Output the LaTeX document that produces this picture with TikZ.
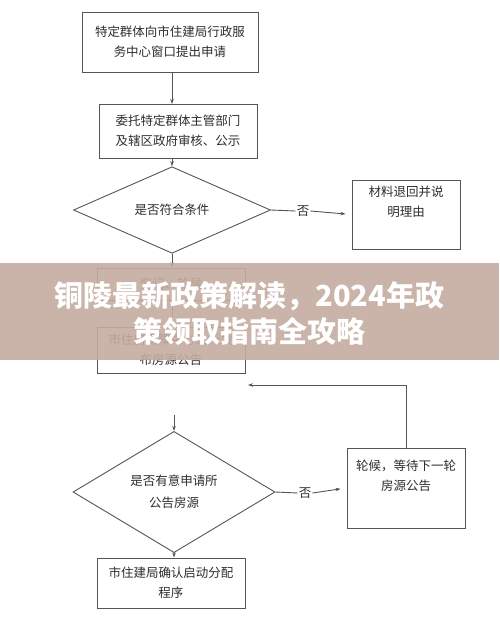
\documentclass[tikz,border=0pt]{standalone}
\usepackage{fontspec}
\setmainfont{Noto Sans CJK SC}
\usetikzlibrary{shapes.geometric, arrows.meta, positioning}
\definecolor{linegray}{RGB}{85,85,85}
\definecolor{textgray}{RGB}{45,45,45}
\definecolor{bannertan}{RGB}{196,172,160}
\tikzset{
  procbox/.style={draw=linegray, line width=0.9pt, inner sep=0pt, align=center,
    font=\fontsize{12.5}{20}\selectfont, text=textgray},
  decision/.style={diamond, draw=linegray, line width=0.9pt, inner sep=0pt, align=center,
    font=\fontsize{12.5}{22}\selectfont, text=textgray},
  nolabel/.style={inner sep=1pt, font=\fontsize{12.5}{15}\selectfont, text=textgray},
  flow/.style={draw=linegray, line width=0.9pt, -{Stealth[length=5pt,width=3.5pt]}},
  plain/.style={draw=linegray, line width=0.9pt},
  bannertext/.style={text=white, font=\fontsize{29}{34}\selectfont\bfseries},
}
\begin{document}
\begin{tikzpicture}[x=1pt, y=-1pt]
  \useasboundingbox (0,0) rectangle (499,625);

  % main column
  \node[procbox, minimum width=176pt, minimum height=60pt] (apply) at (170,42)
    {特定群体向市住建局行政服\\务中心窗口提出申请};
  \node[procbox, minimum width=158pt, minimum height=54pt] (review) at (178,131)
    {委托特定群体主管部门\\及辖区政府审核、公示};
  \node[decision, minimum width=197pt, minimum height=57pt] (check) at (172,210) {是否符合条件};
  \node[procbox, minimum width=148pt, minimum height=32pt] (queue) at (171,284) {登记、轮候};
  \node[procbox, minimum width=148pt, minimum height=46pt] (notice) at (171,350)
    {市住房保障中心统一发\\布房源公告};
  \coordinate (gapstart) at (174,415);
  \node[decision, minimum width=202pt, minimum height=87pt] (intent) at (174,492)
    {是否有意申请所\\公告房源};
  \node[procbox, minimum width=148pt, minimum height=50pt] (allot) at (171,583)
    {市住建局确认启动分配\\程序};

  % side boxes
  \node[procbox, minimum width=108pt, minimum height=69pt] (reject) at (406,214.5)
    {材料退回并说\\明理由\\\strut};
  \node[procbox, minimum width=118pt, minimum height=80pt] (wait) at (406,488)
    {轮候，等待下一轮\\房源公告\\\strut};
  \node[nolabel] (no1) at (303,211) {否};
  \node[nolabel] (no2) at (305,493) {否};
  \coordinate (loopend) at (248,385);

  % connectors
  \draw[flow] (172,72) -- (172,104);
  \draw[flow] (172,158) -- (check.north);
  \draw[flow] (check.south) -- (queue.north -| check.south);
  \draw[flow] (172,300) -- (notice.north -| check.south);
  \draw[flow] (gapstart) -- (intent.north);
  \draw[flow] (intent.south) -- (allot.north -| intent.south);
  \draw[plain] (check.east) -- (no1.west);
  \draw[flow, shorten >=6pt] (no1.east) -- (reject.west);
  \draw[plain] (intent.east) -- (no2.west);
  \draw[flow, shorten >=6pt] (no2.east) -- (wait.west);
  \draw[flow] (wait.north) |- (loopend);

  % title banner
  \fill[bannertan, opacity=0.9] (0,263) rectangle (499,360);
  \node[bannertext] (title1) at (249.5,296) {铜陵最新政策解读，2024年政};
  \node[bannertext] (title2) at (249.5,331) {策领取指南全攻略};
\end{tikzpicture}
\end{document}
